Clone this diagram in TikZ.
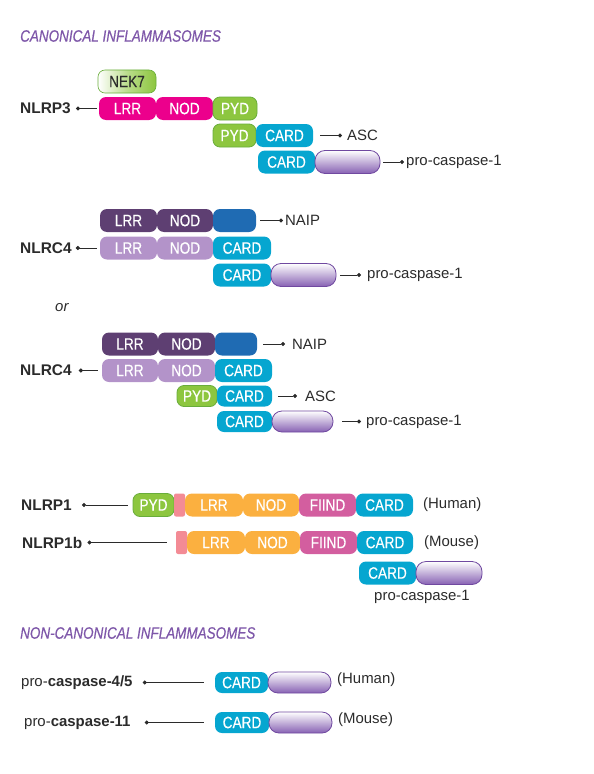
\documentclass[tikz,border=0pt]{standalone}
\usepackage{fontspec}
\setmainfont{Liberation Sans}
\newfontfamily\narrowfont[FakeStretch=0.83,FakeBold=0.3]{Liberation Sans}
\newfontfamily\headfont[FakeStretch=0.82,FakeBold=0.6]{Liberation Sans}
\usetikzlibrary{arrows.meta}
\definecolor{nlrpMag}{HTML}{EC008C}
\definecolor{pydGreen}{HTML}{8DC63F}
\definecolor{pydEdge}{HTML}{69AD3B}
\definecolor{cardCyan}{HTML}{06A6D0}
\definecolor{naipPurple}{HTML}{5E3F72}
\definecolor{naipBlue}{HTML}{1F6BB3}
\definecolor{nlrcLilac}{HTML}{B393C9}
\definecolor{lrrOrange}{HTML}{FBB040}
\definecolor{fiindPink}{HTML}{D35E9F}
\definecolor{linkerPink}{HTML}{F38B95}
\definecolor{titlePurple}{HTML}{7E57A9}
\definecolor{caspPurple}{HTML}{8761B3}
\definecolor{caspEdge}{HTML}{7049A0}
\definecolor{inkGray}{HTML}{2B2B2B}
\begin{document}
\begin{tikzpicture}[x=1bp,y=-1bp,
  dom/.style={rounded corners=7bp,minimum height=23bp,inner sep=0pt,text=white,
    font=\narrowfont\fontsize{16.5}{16}\selectfont},
  pyd/.style={dom,fill=pydGreen,draw=pydEdge,line width=0.8bp},
  card/.style={dom,fill=cardCyan},
  casp/.style={dom,rounded corners=10bp,top color=white,bottom color=caspPurple,
    draw=caspEdge,line width=0.8bp},
  linker/.style={dom,rounded corners=2bp,fill=linkerPink},
  protname/.style={anchor=west,inner sep=0pt,text=inkGray,font=\bfseries\fontsize{15.5}{18}\selectfont},
  partner/.style={anchor=west,inner sep=0pt,text=inkGray,font=\fontsize{15}{18}\selectfont},
  heading/.style={anchor=west,inner sep=0pt,text=titlePurple,font=\headfont\itshape\fontsize{16.5}{18}\selectfont},
  link/.style={draw=inkGray,line width=0.9bp},
  dotstart/.style={link,{Circle[length=4bp]}-},
  dotend/.style={link,-{Circle[length=4bp]}}]
\useasboundingbox (0,0) rectangle (594,774);

% canonical: NLRP3
\node[heading] (canon) at (20,36) {CANONICAL INFLAMMASOMES};
\node[dom,left color=white,right color=pydGreen,middle color=pydGreen!60,draw=pydEdge,
  line width=0.6bp,text=inkGray,minimum width=58bp] (nek7) at (127,81.5) {NEK7};
\node[protname] (nlrp3) at (20,108.5) {NLRP3};
\node[dom,fill=nlrpMag,minimum width=57bp] (lrrA) at (127.5,108.5) {LRR};
\node[dom,fill=nlrpMag,minimum width=57bp] (nodA) at (184.5,108.5) {NOD};
\node[pyd,minimum width=44bp] (pydA) at (235,108.5) {PYD};
\node[pyd,minimum width=43bp] (pydAsc) at (234.5,135.5) {PYD};
\node[card,minimum width=57bp] (cardAsc) at (284.5,135.5) {CARD};
\node[partner] (asc) at (347,135.5) {ASC};
\node[card,minimum width=57bp] (cardCasp) at (286.5,162) {CARD};
\node[casp,minimum width=65bp] (bodyCasp) at (347.5,162) {};
\node[partner] (casp) at (406,162) {pro-caspase-1};
\draw[dotstart,shorten <=5bp,shorten >=2bp] (nlrp3.east) -- (lrrA.west);
\draw[dotend,shorten <=7bp,shorten >=5bp] (cardAsc.east) -- (asc.west);
\draw[dotend,shorten <=3bp,shorten >=2bp] (bodyCasp.east) -- (casp.west);

% NLRC4 with NAIP
\node[dom,fill=naipPurple,minimum width=57bp] (lrrN) at (128.5,220.5) {LRR};
\node[dom,fill=naipPurple,minimum width=56bp] (nodN) at (185,220.5) {NOD};
\node[dom,fill=naipBlue,minimum width=43bp] (birN) at (234.5,220.5) {};
\node[partner] (naip) at (285,220.5) {NAIP};
\node[protname] (nlrc4) at (20,248) {NLRC4};
\node[dom,fill=nlrcLilac,minimum width=57bp] (lrrC) at (128.5,248) {LRR};
\node[dom,fill=nlrcLilac,minimum width=56bp] (nodC) at (185,248) {NOD};
\node[card,minimum width=58bp] (cardC) at (242,248) {CARD};
\node[card,minimum width=58bp] (cardCaspC) at (242,275) {CARD};
\node[casp,minimum width=65bp] (bodyCaspC) at (303.5,275) {};
\node[partner] (caspC) at (367,275) {pro-caspase-1};
\draw[dotend,shorten <=4bp,shorten >=2bp] (birN.east) -- (naip.west);
\draw[dotstart,shorten <=4bp,shorten >=3bp] (nlrc4.east) -- (lrrC.west);
\draw[dotend,shorten <=4bp,shorten >=6bp] (bodyCaspC.east) -- (caspC.west);

\node[partner,font=\itshape\fontsize{15}{18}\selectfont] (or) at (55,308) {or};

% NLRC4 with NAIP and ASC
\node[dom,fill=naipPurple,minimum width=56bp] (lrrM) at (130,344) {LRR};
\node[dom,fill=naipPurple,minimum width=57bp] (nodM) at (186.5,344) {NOD};
\node[dom,fill=naipBlue,minimum width=42bp] (birM) at (236,344) {};
\node[partner] (naipM) at (292,344) {NAIP};
\node[protname] (nlrc4M) at (20,370.5) {NLRC4};
\node[dom,fill=nlrcLilac,minimum width=56bp] (lrrD) at (130,370.5) {LRR};
\node[dom,fill=nlrcLilac,minimum width=57bp] (nodD) at (186.5,370.5) {NOD};
\node[card,minimum width=57bp] (cardD) at (243.5,370.5) {CARD};
\node[pyd,minimum width=40bp,minimum height=21bp] (pydAscD) at (197,396) {PYD};
\node[card,minimum width=55bp,minimum height=21bp] (cardAscD) at (244.5,396) {CARD};
\node[partner] (ascD) at (305,396) {ASC};
\node[card,minimum width=55bp,minimum height=21bp] (cardCaspD) at (244.5,421.5) {CARD};
\node[casp,minimum width=61bp,minimum height=21bp] (bodyCaspD) at (302.5,421.5) {};
\node[partner] (caspD) at (366,421.5) {pro-caspase-1};
\draw[dotend,shorten <=6bp,shorten >=7bp] (birM.east) -- (naipM.west);
\draw[dotstart,shorten <=7bp,shorten >=4bp] (nlrc4M.east) -- (lrrD.west);
\draw[dotend,shorten <=6bp,shorten >=8bp] (cardAscD.east) -- (ascD.west);
\draw[dotend,shorten <=9bp,shorten >=5bp] (bodyCaspD.east) -- (caspD.west);

% NLRP1 and NLRP1b
\node[protname] (nlrp1) at (21,505) {NLRP1};
\node[pyd,minimum width=41bp] (pydP) at (153.5,505) {PYD};
\node[linker,minimum width=11bp] (linkP) at (179.5,505) {};
\node[dom,fill=lrrOrange,minimum width=58bp] (lrrP) at (214,505) {LRR};
\node[dom,fill=lrrOrange,minimum width=56bp] (nodP) at (271,505) {NOD};
\node[dom,fill=fiindPink,minimum width=57bp] (fiindP) at (327.5,505) {FIIND};
\node[card,minimum width=57bp] (cardP) at (384.5,505) {CARD};
\node[partner] (human) at (423,505) {(Human)};
\draw[dotstart,shorten <=10bp,shorten >=5bp] (nlrp1.east) -- (pydP.west);
\node[protname] (nlrp1b) at (22,542.5) {NLRP1b};
\node[linker,minimum width=11bp] (linkB) at (181.5,542.5) {};
\node[dom,fill=lrrOrange,minimum width=58bp] (lrrB) at (216,542.5) {LRR};
\node[dom,fill=lrrOrange,minimum width=55bp] (nodB) at (272.5,542.5) {NOD};
\node[dom,fill=fiindPink,minimum width=57bp] (fiindB) at (328.5,542.5) {FIIND};
\node[card,minimum width=56bp] (cardB) at (385,542.5) {CARD};
\node[partner] (mouse) at (424,542.5) {(Mouse)};
\draw[dotstart,shorten <=5bp,shorten >=9bp] (nlrp1b.east) -- (linkB.west);
\node[card,minimum width=57bp] (cardCaspP) at (387.5,573) {CARD};
\node[casp,minimum width=66bp] (bodyCaspP) at (449,573) {};
\node[partner,anchor=center] (caspP) at (422,597) {pro-caspase-1};

% non-canonical
\node[heading] (noncanon) at (20,633) {NON-CANONICAL INFLAMMASOMES};
\node[partner] (casp45) at (21,682.5) {pro-\textbf{caspase-4/5}};
\node[card,minimum width=53bp,minimum height=21bp] (card45) at (241.5,682.5) {CARD};
\node[casp,minimum width=63bp,minimum height=21bp] (body45) at (299.5,682.5) {};
\node[partner] (human45) at (337,680) {(Human)};
\draw[dotstart,shorten <=10bp,shorten >=11bp] (casp45.east) -- (card45.west);
\node[partner] (casp11) at (24,722.5) {pro-\textbf{caspase-11}};
\node[card,minimum width=54bp,minimum height=21bp] (card11) at (242,722.5) {CARD};
\node[casp,minimum width=63bp,minimum height=21bp] (body11) at (300.5,722.5) {};
\node[partner] (mouse11) at (338,720) {(Mouse)};
\draw[dotstart,shorten <=14bp,shorten >=11bp] (casp11.east) -- (card11.west);
\end{tikzpicture}
\end{document}
